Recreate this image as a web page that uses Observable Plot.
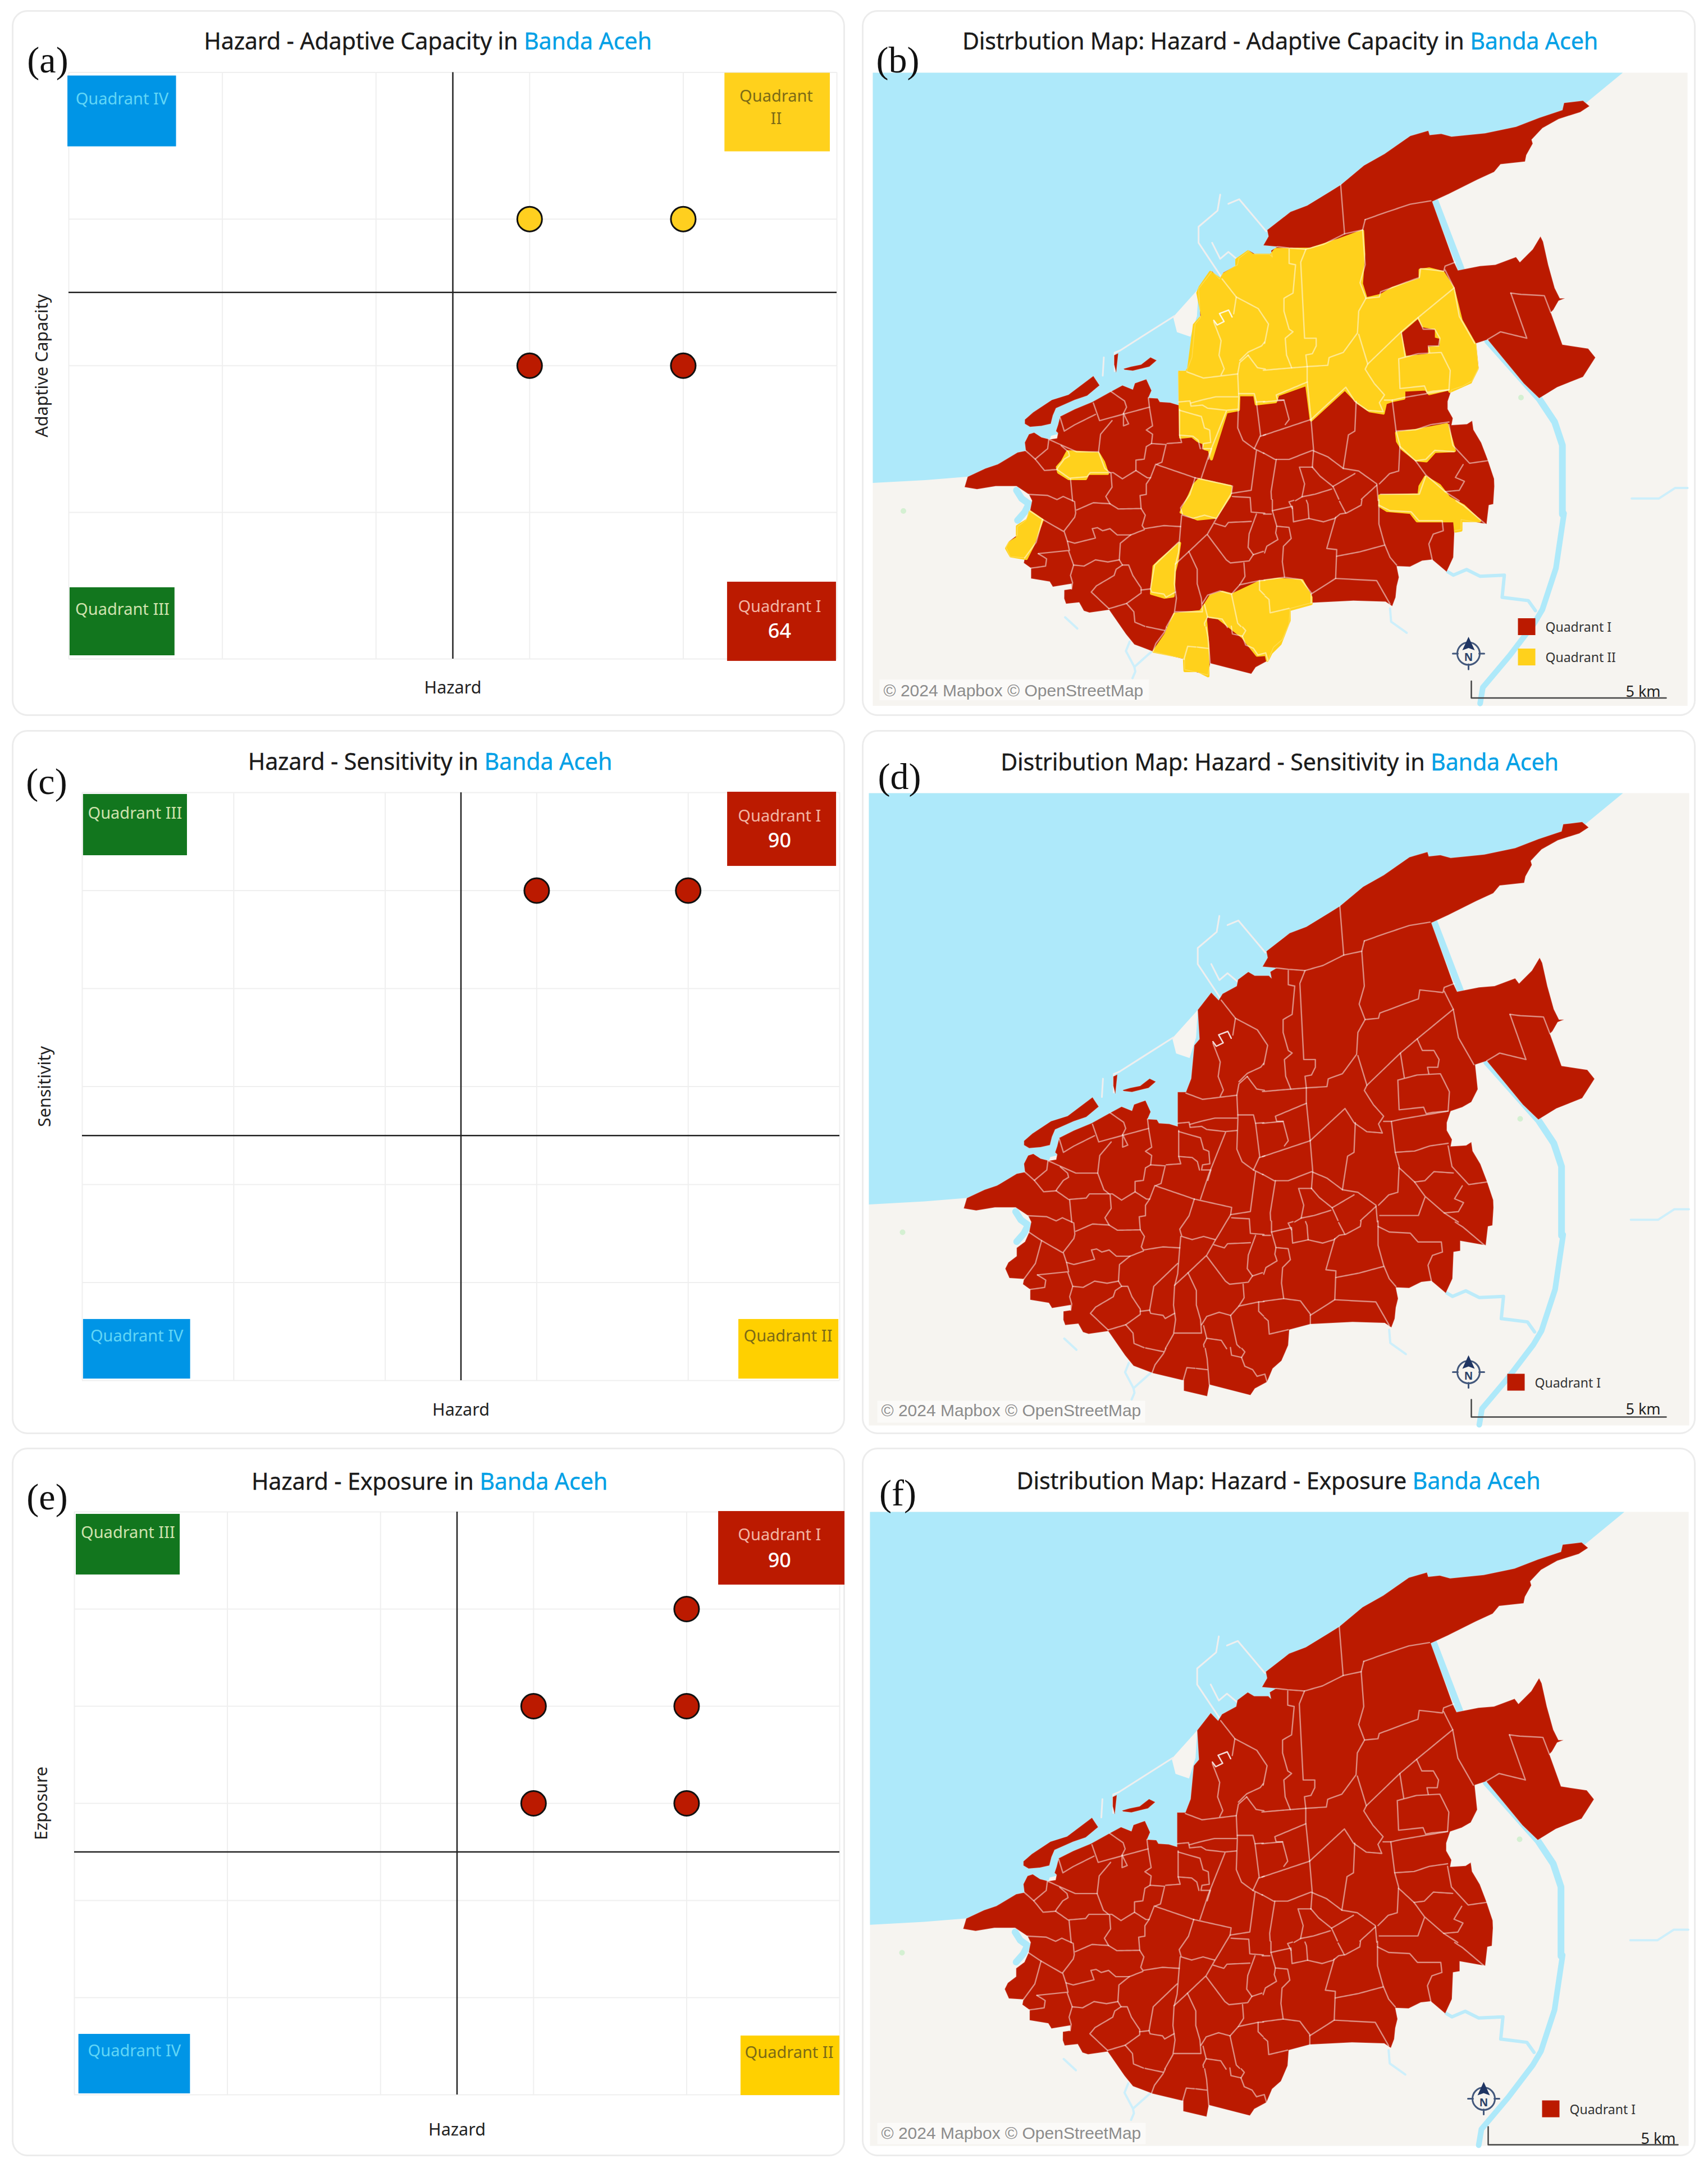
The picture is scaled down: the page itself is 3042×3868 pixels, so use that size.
<!DOCTYPE html>
<html><head><meta charset="utf-8">
<script src="https://cdn.jsdelivr.net/npm/d3@7"></script>
<script src="https://cdn.jsdelivr.net/npm/@observablehq/plot@0.6"></script>
<style>
html,body{margin:0;padding:0;background:#fff}
#page{position:relative;width:3042px;height:3868px;overflow:hidden;background:#fff}
.card{position:absolute;box-sizing:border-box;border:3px solid #ececec;border-radius:28px;background:#fff}
.title{position:absolute;transform:translate(-50%,-50%);white-space:nowrap;font-family:"Noto Sans",sans-serif;font-size:41.3px;color:#1a1a1a;letter-spacing:-.2px;-webkit-text-stroke:.35px currentColor}
.title b{font-weight:400;color:#00a0e6}
.tag{position:absolute;transform:translate(-50%,-50%);font-family:"Liberation Serif",serif;font-size:66px;color:#111}
svg{position:absolute;overflow:visible;background:transparent}
</style></head><body><div id="page"></div>
<script>
/* ---------- colours ---------- */
const RED="#BB1A00", YELLOW="#FFD11C", BLUE="#0095E6", GREEN="#12761E";
const WATER="#AEE9FA", LAND="#F6F4F0";

/* ---------- scatter values: (hazard, second score) of the dots ---------- */
const adaptiveYellow=[[3,3],[4,3]];
const adaptiveRed=[[3,2],[4,2]];
const sensitivityRed=[[3,5],[4,5]];
const exposureRed=[[4,5],[3,4],[4,4],[3,3],[4,3]];

/* ---------- quadrant annotation boxes, in axis units ---------- */
const boxesA=[
 {q:"IV",fill:BLUE,x1:-.007,x2:.7,y1:3.494,y2:3.977},
 {q:"II",fill:YELLOW,x1:4.27,x2:4.956,y1:3.46,y2:3.996},
 {q:"III",fill:GREEN,x1:.007,x2:.69,y1:.023,y2:.487},
 {q:"I",fill:RED,x1:4.287,x2:4.996,y1:-.015,y2:.525}];
const labelsA=[
 {t:"Quadrant IV",c:"#62d6f6",x:.347,y:3.816},{t:"Quadrant",c:"#7b6a16",x:4.605,y:3.835},{t:"II",c:"#7b6a16",x:4.605,y:3.682},
 {t:"Quadrant III",c:"#cfe2ae",x:.349,y:.337},{t:"Quadrant I",c:"#f2b5a4",x:4.627,y:.356},{t:"64",c:"#fff",x:4.627,y:.188,n:1}];
const boxesC=[
 {fill:GREEN,x1:.007,x2:.693,y1:5.358,y2:5.983},{fill:RED,x1:4.259,x2:4.978,y1:5.249,y2:6.006},
 {fill:BLUE,x1:.007,x2:.714,y1:.017,y2:.625},{fill:"#FFD000",x1:4.333,x2:4.993,y1:.017,y2:.625}];
const labelsC=[
 {t:"Quadrant III",c:"#cfe2ae",x:.348,y:5.788},{t:"Quadrant I",c:"#f2b5a4",x:4.603,y:5.759},{t:"90",c:"#fff",x:4.603,y:5.507,n:1},
 {t:"Quadrant IV",c:"#62d6f6",x:.36,y:.453},{t:"Quadrant II",c:"#7b6a16",x:4.659,y:.453}];
const boxesE=[
 {fill:GREEN,x1:.011,x2:.69,y1:5.353,y2:5.977},{fill:RED,x1:4.208,x2:5.033,y1:5.249,y2:6.006},
 {fill:BLUE,x1:.028,x2:.757,y1:.012,y2:.624},{fill:"#FFD000",x1:4.354,x2:5,y1:-.006,y2:.607}];
const labelsE=[
 {t:"Quadrant III",c:"#cfe2ae",x:.35,y:5.786},{t:"Quadrant I",c:"#f2b5a4",x:4.607,y:5.763},{t:"90",c:"#fff",x:4.607,y:5.497,n:1},
 {t:"Quadrant IV",c:"#62d6f6",x:.392,y:.451},{t:"Quadrant II",c:"#7b6a16",x:4.67,y:.434}];

/* ---------- map geometry, read off enlarged views of the map ---------- */
/* each view records its own origin and magnification; all are tied to one map unit */
const A={ox:1690,oy:1850,kx:2.703,ky:2.703}, B={ox:2170,oy:1480,kx:2.178,ky:2.178},
      C={ox:2100,oy:2150,kx:2.529,ky:2.529}, D={ox:1690,oy:2350,kx:3,ky:3},
      E={ox:1530,oy:1300,kx:1.037,ky:1.225},
      G={ox:2098.5,oy:1675,kx:2.45,ky:2.45}, H={ox:1768.5,oy:1985,kx:2.178,ky:2.178}, I={ox:2418.5,oy:1985,kx:3,ky:3};

const coastWest=[[70,815],[85,765],[170,725],[230,705],[325,648],[365,640],[360,600],[380,560],[405,552],[440,575],[480,585],[515,580],[520,555],[510,545],[520,515],[530,475],[600,440],[685,405],[775,355],[830,325],[880,345],[890,315],[945,295],[970,350],[955,385],[1000,388],[1010,405],[1060,408],[1100,420],[1100,350],[1100,255],[1140,255],[1165,190],[1180,30],[1205,0]];
const coastPort=[[625,610],[650,572]];
const coastNorth=[[0,655],[15,630],[70,600],[75,575],[115,545],[140,560],[195,560],[205,570],[200,545],[225,530],[170,525],[190,490],[185,465],[275,395],[340,370],[430,315],[470,290],[560,215],[640,170],[740,100],[810,80],[815,97],[860,92],[900,103],[1030,90],[1150,65],[1240,30],[1330,0]];
const spitTip=[[1300,205],[1335,200],[1347,212],[1330,225],[1290,240],[1260,260],[1240,285]];
const eastEdge=[[1215,130],[1190,175],[1185,200],[1090,210],[1065,240],[1000,270],[890,325],[825,355],[910,590],[925,622],[1010,605],[1070,600],[1150,570],[1165,590],[1215,540],[1245,490],[1255,510],[1275,600],[1300,690],[1320,730],[1340,730],[1315,740],[1295,775],[1285,785],[1330,910],[1430,925],[1458,960],[1410,1035],[1310,1075],[1240,1118],[1180,1060],[1040,890],[995,905],[1005,1000],[980,1050],[945,1070],[900,1085],[885,1130],[885,1160],[905,1195],[900,1222],[960,1218],[980,1205],[985,1240],[1015,1290],[1040,1355],[1065,1430]];
const southEdge=[[1415,0],[1410,80],[1390,85],[1380,170],[1265,150],[1265,195],[1235,200],[1230,320],[1200,385],[1135,330],[1090,335],[1035,362],[975,360],[985,410],[975,450],[970,500],[955,540],[925,520],[780,515],[590,525],[495,550],[490,620],[460,690],[420,725],[395,785],[340,815],[320,845],[135,797],[125,850],[20,825],[20,780]];
const southWestEdge=[[1090,285],[985,245],[940,190],[850,60],[745,75],[715,65],[690,20],[620,28],[610,0]];
const westEdge=[[550,1310],[585,1305],[585,1280],[495,1295],[480,1270],[390,1255],[390,1205],[355,1180],[360,1155],[290,1150],[270,1105],[285,1075],[325,1045],[325,1005],[365,975],[385,930],[395,880],[380,850],[320,810],[220,810],[130,825]];
const sliver=[[360,490],[400,455],[490,395],[570,370],[690,280],[720,325],[660,375],[600,395],[510,435],[495,470],[485,510],[440,520],[385,525],[360,510]];
const islet=[[835,245],[870,235],[920,225],[965,190],[995,205],[960,235],[880,255],[840,250]];
const jetty=[[790,180],[810,170],[800,265],[790,225]];
const landPatch=[[625,610],[578,672],[585,705],[610,715],[622,670]];
const seaCorners=[[1500,1350],[2960,1350],[2890,1412],[2822,1468],[2780,1488],[2739,1505],[2690,1525],[2600,1570],[2500,1640],[2400,1730],[2200,1780],[2150,1950],[2100,2040],[1950,2040],[1870,2060],[1860,2090],[1800,2130],[1720,2133],[1646,2139],[1500,2147]];

const linesA=[
[[475,590],[470,630],[410,680]],[[365,640],[410,680],[455,735],[515,730],[575,772],[660,765],[675,745],[770,745]],
[[475,585],[610,645],[715,645],[725,560],[780,495]],[[535,615],[570,645],[575,665],[550,680],[520,720],[515,730]],
[[715,645],[745,725],[770,745],[785,745],[830,775],[895,735],[950,770],[965,770],[990,705],[1180,770]],
[[895,735],[895,685],[935,680],[945,620],[970,605],[1040,610],[1020,695],[995,705]],
[[775,750],[780,815],[750,860],[770,895]],[[580,775],[590,880]],
[[380,850],[470,855],[515,875],[545,860],[600,885],[605,940],[600,960],[550,1025]],
[[610,925],[690,890],[770,895],[810,920],[920,918],[915,855],[945,850],[945,800],[965,770]],
[[920,918],[940,950],[925,1000],[935,1015],[1030,1000],[1110,1005]],
[[385,930],[445,970],[550,1030],[565,1075],[600,1085],[700,1060],[685,1015],[710,1010],[735,1025],[770,1015],[805,1045],[870,1045],[935,1020]],
[[445,970],[415,1080],[360,1155]],
[[425,1135],[570,1120],[595,1190],[645,1195],[700,1165],[760,1175],[815,1165]],
[[870,1045],[820,1085],[815,1165],[830,1190],[800,1210],[790,1240],[705,1290],[680,1320],[765,1400]],
[[565,1075],[575,1120]],[[425,1135],[465,1160],[460,1195],[390,1205]],[[595,1190],[580,1240],[590,1275],[585,1305]],
[[830,1190],[860,1190],[880,1240],[920,1300],[920,1325],[850,1375],[765,1400]],
[[920,1310],[965,1305],[970,1320],[1030,1330],[1040,1345],[1085,1320]],
[[850,1375],[885,1415],[890,1465],[950,1490],[1035,1500],[1000,1568]],
[[965,1305],[985,1190],[1100,1080]],
[[1115,950],[1110,1005],[1100,1130],[1085,1190],[1080,1280],[1090,1350],[1080,1420],[1035,1500]],
[[1085,1185],[1150,1125],[1240,1040],[1280,970],[1355,845],[1360,810],[1180,770]],
[[1180,770],[1155,850],[1110,915],[1120,950],[1170,965],[1225,950],[1280,965]],
[[1210,770],[1250,650],[1330,450]],
[[1100,405],[1155,400],[1160,425],[1215,420],[1240,435],[1330,445],[1385,440]],
[[1160,410],[1215,395],[1280,380],[1385,380]],
[[1105,445],[1210,475],[1225,530],[1250,540],[1255,600],[1220,605],[1215,630],[1260,630],[1245,680]],
[[1105,565],[1170,570],[1195,590],[1205,630]],[[1105,440],[1105,565],[1115,600],[1045,605]],
[[1140,260],[1220,290],[1385,270]],
[[1435,180],[1395,215],[1385,270],[1390,380],[1385,530],[1410,590],[1465,630],[1568,680]],
[[1390,365],[1465,365],[1475,405],[1495,565],[1465,630]],[[1475,405],[1568,400]],[[1495,570],[1568,545]],
[[1475,640],[1450,830],[1355,845]],[[1360,860],[1445,865],[1450,935],[1568,945]],
[[1475,945],[1440,1040],[1435,1105],[1460,1140],[1568,1105]],[[1275,990],[1325,1005],[1340,985],[1450,980]],
[[1240,1045],[1330,1165],[1350,1180],[1440,1170],[1460,1140]],
[[1150,1125],[1190,1210],[1190,1280],[1210,1350],[1215,1415],[1085,1415]],
[[1415,1180],[1420,1245],[1395,1285],[1490,1265],[1568,1260]],
[[1395,1285],[1355,1330],[1300,1315],[1240,1335],[1215,1375]],
[[1355,1330],[1385,1470],[1425,1510],[1410,1530],[1355,1520],[1310,1450],[1240,1440],[1225,1380]],
[[1240,1440],[1225,1470],[1240,1568]],[[1490,1265],[1490,1310],[1530,1350],[1535,1410],[1568,1420]],
[[835,460],[860,510],[835,520],[835,460]],[[775,355],[840,400],[850,430],[835,460]],
[[690,410],[720,495],[830,465],[960,430],[975,520],[945,540],[975,560],[970,605]],
[[700,465],[600,515],[550,545],[530,480]],[[960,430],[955,385]],
[[1270,20],[1305,110],[1295,180],[1320,245],[1305,275]],[[1530,0],[1535,90],[1500,135],[1435,165],[1395,205]],
[[1435,180],[1480,240],[1568,255]]];
const linesB=[
[[470,290],[485,480]],[[225,530],[270,535],[335,540],[405,520],[485,480],[555,465]],
[[565,425],[555,465],[565,600],[545,670],[568,730],[540,780],[535,865],[480,940],[425,960],[420,990],[340,995],[280,1000],[160,1010],[130,985],[110,945]],
[[565,425],[650,395],[740,365],[820,352]],
[[568,730],[620,725],[625,705],[665,690],[745,660],[775,650],[780,615],[870,625],[875,605],[915,590]],
[[875,620],[910,690],[930,800],[990,905]],[[910,690],[770,805],[705,860],[575,985],[540,870]],
[[575,985],[565,1005],[600,1060],[640,1105],[620,1135],[635,1170],[575,1165],[525,1130],[490,1075],[355,1200]],
[[340,995],[340,1050],[355,1200],[365,1320],[360,1385]],
[[335,540],[315,590],[330,885],[375,885],[375,915],[360,945],[335,950],[340,995]],
[[270,540],[270,595],[295,600],[285,710],[250,730],[250,780],[270,850],[285,860],[255,885],[260,950],[280,1000]],
[[10,655],[65,725],[150,770],[190,830],[175,905],[110,945],[75,990],[70,1060],[75,1200],[85,1270],[135,1310],[215,1355],[270,1355],[360,1320],[420,1345],[480,1390],[540,1400],[610,1450],[620,1568]],
[[65,725],[55,790]],[[340,1055],[220,1105],[225,1125],[250,1125]],[[75,1100],[135,1100],[160,1265],[355,1200]],
[[140,1135],[250,1125],[270,1200],[255,1220]],[[135,1310],[160,1265]],
[[770,805],[790,850],[835,850],[855,885],[850,915],[810,915],[815,940]],[[705,860],[720,955]],
[[695,965],[770,945],[860,940],[895,1010],[890,1085],[830,1090],[805,1095],[795,1070],[700,1080],[695,965]],
[[890,1085],[715,1115],[670,1125],[685,1245],[760,1240],[820,1220],[890,1210]],[[640,1125],[670,1125]],
[[685,1245],[700,1300],[695,1400],[660,1410],[620,1450]],
[[700,1305],[760,1360],[800,1415],[875,1480],[975,1545],[990,1568]],
[[890,1220],[905,1300],[970,1370],[1040,1360]],[[760,1360],[800,1355],[835,1320],[910,1325]],
[[945,1375],[915,1425],[950,1440],[930,1475],[875,1480]],[[800,1420],[775,1490],[625,1490]],
[[530,1130],[525,1245],[500,1260],[480,1390]],[[360,1385],[310,1385],[330,1450],[320,1500]],
[[360,1385],[390,1420],[440,1460],[525,1410]],[[440,1460],[490,1568]],[[610,1455],[550,1510],[545,1568]],
[[435,1470],[370,1490],[320,1500],[270,1530]],[[220,1355],[200,1480],[205,1568]],
[[135,1325],[125,1480],[50,1490],[0,1568]],[[0,1445],[45,1460],[50,1490]],[[625,1530],[690,1568]],
[[75,1020],[0,1030]],[[75,1110],[0,1110]],[[75,1160],[20,1165],[0,1270]],
[[1130,710],[1170,715],[1260,720],[1285,785]],[[1130,710],[1192,885],[1090,860],[1040,890]]];
const linesC=[
[[900,30],[1025,40],[1080,30],[1075,0]],[[895,85],[945,110],[1040,115],[1075,155],[1180,155],[1185,200],[1140,215],[1120,260],[1135,330]],
[[1180,0],[1205,40],[1280,90],[1375,170]],[[1200,20],[1235,30],[1260,0]],[[895,0],[895,170],[920,260],[945,320],[975,355]],
[[920,265],[810,295],[705,315]],[[700,140],[660,280],[705,285],[700,415],[590,485]],[[700,415],[885,425],[945,530]],
[[890,0],[855,20],[820,50],[815,85],[750,120],[720,125],[695,145],[645,160],[580,145],[510,160],[505,90],[415,110],[415,0]],
[[565,0],[565,55],[575,80],[580,145]],[[555,50],[490,70],[505,100]],[[690,15],[745,120]],[[565,50],[610,25],[690,15]],
[[415,110],[435,180],[490,185],[500,235],[465,270],[460,340],[470,410],[545,420],[590,480],[590,525]],
[[470,410],[355,425],[270,445],[230,485],[185,470],[125,495],[105,530],[135,580],[180,590],[190,625],[230,630],[235,665],[280,675],[295,715],[330,730],[350,760],[385,750],[395,785]],
[[280,675],[295,650],[260,610],[230,485]],[[355,430],[365,480],[400,510],[405,570],[490,550]],
[[135,580],[110,600],[125,680],[135,797]],[[105,525],[95,565],[0,570]],[[40,720],[125,730]],
[[270,445],[260,415],[290,405],[290,345],[225,345],[205,325],[165,250],[120,225]],
[[290,345],[325,315],[300,270],[305,210],[330,125],[410,125]],[[325,310],[380,300],[390,270],[440,240],[430,210],[435,180]],
[[120,225],[160,170],[205,180],[220,155],[330,155]],[[160,135],[230,40],[320,50],[320,120],[340,125]],
[[230,35],[320,25],[325,0]],[[0,125],[60,140],[120,130],[160,140]],[[160,140],[115,220],[40,300],[0,330]],
[[40,300],[70,370],[90,490],[105,530]],[[30,30],[0,90]]];
const linesD=[
[[850,55],[940,30],[985,75],[990,125],[1050,150],[1145,170]],[[1205,0],[1195,75],[1145,180],[1100,240],[1085,280]],
[[1205,72],[1340,72],[1365,40]],[[1360,30],[1380,85],[1360,115],[1380,210],[1395,345]],[[1380,90],[1440,95],[1460,150],[1500,150]],
[[1250,325],[1270,255],[1385,265],[1395,345]]];
const portWalls=[[[665,405],[660,440],[625,475],[625,510],[670,590]],[[680,425],[700,415],[750,485]],[[650,510],[665,545],[680,530],[700,550]],[[580,670],[480,745]],[[480,745],[470,750],[470,790]],[[450,760],[448,800]]];
const squiggle=[[150,440],[165,460],[195,445],[175,410],[215,395],[230,425]];

/* main rivers and streams */
const riverMain=[[835,350],[935,610],[1040,895],[1240,1120],[1300,1210],[1330,1300],[1330,1568]];
const riverLower=[[1300,1100],[1285,1220],[1260,1310],[1245,1340],[1200,1410],[1150,1480],[1145,1515]];
const riverWest=[[320,830],[345,870],[380,895],[360,935],[325,975]];
const streamEast=[[1205,385],[1230,400],[1290,375],[1350,405],[1460,400],[1450,500],[1568,515],[1600,560]];
const streams=[
 {s:C,p:[[945,550],[950,610],[1020,660]]},
 {s:D,p:[[615,100],[680,160]]},{s:D,p:[[960,230],[940,280],[985,365],[1075,285]]},{s:D,p:[[985,365],[990,390],[975,425]]},
 {s:E,p:[[1425,1068],[1475,1068],[1505,1045],[1532,1045]]}];
const greenSpots=[[2707,1992],[1607,2194]];

/* quadrant II areas on map (b) */
const yellowG=[[135,230],[180,262],[195,238],[250,205],[250,175],[300,140],[320,155],[400,155],[420,130],[575,128],[690,90],[800,50],[805,150],[795,280],[815,345],[880,330],[930,300],[1050,260],[1050,220],[1090,215],[1150,230],[1195,300],[1230,440],[1290,545],[1300,650],[1270,710],[1180,750],[1175,740],[1090,760],[1075,740],[980,745],[980,780],[930,790],[900,800],[890,845],[830,835],[780,800],[722,740],[575,875],[555,720],[430,765],[420,795],[335,805],[328,765],[260,765],[258,830],[205,840],[140,1045],[130,1005],[110,1000],[105,975],[80,965],[55,945],[5,950],[0,665],[30,665],[40,650],[65,460],[100,420],[80,320],[90,295]];
const redInYellow=[[1040,435],[1060,470],[1115,480],[1115,515],[1135,520],[1135,550],[1085,555],[1085,585],[990,595],[970,495]];
const yellowI=[
 [[200,210],[310,195],[470,165],[510,305],[405,310],[360,360],[305,355],[230,295],[205,255]],
 [[110,545],[320,540],[325,495],[355,445],[430,490],[480,555],[560,600],[645,680],[545,678],[545,730],[515,735],[510,680],[310,680],[275,635],[150,625],[110,600]]];
const yellowH=[
 [[795,333],[918,360],[915,395],[860,480],[790,487],[725,460],[755,400],[775,355]],
 [[285,225],[405,232],[425,265],[440,310],[365,310],[355,330],[290,330],[250,305],[245,285],[265,262]],
 [[140,458],[187,490],[150,590],[125,640],[65,630],[48,600],[60,578],[90,560],[90,515],[130,490]],
 [[720,580],[710,650],[700,690],[695,785],[660,790],[610,775],[620,670],[640,650]],
 [[620,1000],[665,935],[700,855],[800,845],[818,820],[835,855],[820,870],[830,980],[755,985],[745,1025]],
 [[755,985],[830,985],[830,1095],[790,1075],[740,1075],[738,1030]],
 [[818,820],[840,785],[885,770],[925,780],[1030,730],[1100,720],[1195,725],[1230,790],[1230,815],[1145,838],[1145,880],[1110,970],[1075,1005],[1060,1035],[1055,1012],[1020,1015],[1000,990],[965,945],[915,905],[870,870],[835,865]]];

/* ---------- page layout ---------- */
const scatterPanels=[
 {tag:"(a)",tagX:85,tagY:107,card:[21,18,1505,1275],frame:[122,128.5,1490,1173],yMax:4,yLabel:"Adaptive Capacity",
  head:"Hazard - Adaptive Capacity in ",titleX:762,titleY:72,labelDy:61,boxes:boxesA,labels:labelsA,red:adaptiveRed,yellow:adaptiveYellow,yOffset:59},
 {tag:"(c)",tagX:83,tagY:1392,card:[21,1300,1505,2554],frame:[146,1411,1495,2458],yMax:6,yLabel:"Sensitivity",
  head:"Hazard - Sensitivity in ",titleX:766,titleY:1355,labelDy:62,boxes:boxesC,labels:labelsC,red:sensitivityRed,yellow:[],yOffset:78},
 {tag:"(e)",tagX:84,tagY:2666,card:[21,2578,1505,3840],frame:[132,2692,1495,3730],yMax:6,yLabel:"Ezposure",
  head:"Hazard - Exposure in ",titleX:765,titleY:2637,labelDy:72,boxes:boxesE,labels:labelsE,red:exposureRed,yellow:[],yOffset:70}];
const mapPanels=[
 {tag:"(b)",tagX:1599,tagY:107,card:[1535,18,3020,1275],frame:[1554,128.5,3005,1256],shift:[1.5,-1285],
  head:"Distrbution Map: Hazard - Adaptive Capacity in ",titleX:2280,titleY:72,colored:true,
  legend:[{c:RED,t:"Quadrant I",x:2718,y:1115},{c:YELLOW,t:"Quadrant II",x:2718,y:1169}],legendDx:34,
  north:[2615,1163],bar:[2620,1212,1242,2967],km:[2926,1231],attr:[1573,1229,1566,2046,1209,1246]},
 {tag:"(d)",tagX:1602,tagY:1383,card:[1535,1300,3020,2554],frame:[1547,1412,3008,2538],shift:[0,0],
  head:"Distribution Map: Hazard - Sensitivity in ",titleX:2279,titleY:1356,
  legend:[{c:RED,t:"Quadrant I",x:2699,y:2461}],legendDx:34,
  north:[2615,2443],bar:[2620,2492,2523,2967],km:[2926,2510],attr:[1569,2512,1562,2039,2494,2533]},
 {tag:"(f)",tagX:1599,tagY:2659,card:[1535,2578,3020,3840],frame:[1549,2692,3007,3821],shift:[-1,1283],
  head:"Distribution Map: Hazard - Exposure ",titleX:2277,titleY:2636,
  legend:[{c:RED,t:"Quadrant I",x:2761,y:3755}],legendDx:34,
  north:[2642,3737],bar:[2650,3787,3819,2988],km:[2953,3809],attr:[1569,3799,1562,2040,3780,3818]}];
const tail="Banda Aceh";

/* ---------- helpers ---------- */
const page=document.getElementById("page");
const conv=(s,pts)=>pts.map(([x,y])=>[s.ox+x/s.kx,s.oy+y/s.ky]);
const poly=ring=>({type:"Polygon",coordinates:[[...ring,ring[0]]]});
const line=pts=>({type:"LineString",coordinates:pts});
function html(cls,css,inner){const d=document.createElement("div");d.className=cls;Object.assign(d.style,css);d.innerHTML=inner||"";page.appendChild(d);return d;}
function furnish(p){
 const [x1,y1,x2,y2]=p.card;
 html("card",{left:x1+"px",top:y1+"px",width:(x2-x1)+"px",height:(y2-y1)+"px"});
}
function place(p,svg,x,y){svg.style.left=x+"px";svg.style.top=y+"px";page.appendChild(svg);}
function heading(p){
 html("title",{left:p.titleX+"px",top:p.titleY+"px"},p.head+"<b>"+tail+"</b>");
 html("tag",{left:p.tagX+"px",top:p.tagY+"px"},p.tag);
}
/* where enlarged views overlap, only one view supplies the boundary lines */
const zoneA=([x,y])=>x<2250&&y<2400&&y>=1850;
const zoneB=([x,y])=>(x>=2250&&y<2175)||y<1850;
const zoneC=([x,y])=>(x>=2250&&y>=2175)||(x>=2130&&y>=2400);
const zoneD=([x,y])=>x<2130&&y>=2400;
function keepIn(pts,zone){
 const out=[];let cur=[];
 for(let i=0;i+1<pts.length;i++){
  const [a,b]=[pts[i],pts[i+1]],n=Math.ceil(Math.hypot(b[0]-a[0],b[1]-a[1])/5);
  for(let j=0;j<n;j++){
   const p=[a[0]+(b[0]-a[0])*j/n,a[1]+(b[1]-a[1])*j/n],q=[a[0]+(b[0]-a[0])*(j+1)/n,a[1]+(b[1]-a[1])*(j+1)/n];
   if(zone([(p[0]+q[0])/2,(p[1]+q[1])/2])){if(!cur.length)cur.push(p);cur.push(q);}
   else{if(cur.length>1)out.push(cur);cur=[];}
  }
 }
 if(cur.length>1)out.push(cur);
 return out;
}

/* ---------- scatter panels ---------- */
const FONT='"Noto Sans",sans-serif';
for(const p of scatterPanels){
 furnish(p);
 const [cx1,cy1,cx2,cy2]=p.card,[fx1,fy1,fx2,fy2]=p.frame;
 const chart=Plot.plot({
  width:cx2-cx1,height:cy2-cy1,
  marginLeft:fx1-cx1,marginRight:cx2-fx2,marginTop:fy1-cy1,marginBottom:cy2-fy2,
  style:{background:"transparent",fontFamily:FONT},
  x:{domain:[0,5],label:"Hazard"},y:{domain:[0,p.yMax],label:p.yLabel},
  marks:[
   Plot.gridX(d3.range(0,6),{stroke:"#efefef",strokeOpacity:1,strokeWidth:2}),
   Plot.gridY(d3.range(0,p.yMax+1),{stroke:"#efefef",strokeOpacity:1,strokeWidth:2}),
   Plot.ruleX([2.5],{stroke:"#222",strokeWidth:2.5}),
   Plot.ruleY([2.5],{stroke:"#222",strokeWidth:2.5}),
   Plot.rect(p.boxes,{x1:"x1",x2:"x2",y1:"y1",y2:"y2",fill:"fill"}),
   Plot.text(p.labels.filter(d=>!d.n),{x:"x",y:"y",text:"t",fill:"c",fontSize:29,fontFamily:FONT}),
   Plot.text(p.labels.filter(d=>d.n),{x:"x",y:"y",text:"t",fill:"c",fontSize:36,fontWeight:500,fontFamily:FONT}),
   Plot.dot(p.red,{x:d=>d[0],y:d=>d[1],r:22,fill:RED,stroke:"#111",strokeWidth:3}),
   Plot.dot(p.yellow,{x:d=>d[0],y:d=>d[1],r:22,fill:"#FFCF1F",stroke:"#111",strokeWidth:3}),
   Plot.axisX({tickSize:0,tickFormat:()=>"",label:"Hazard",labelAnchor:"center",labelArrow:"none",labelOffset:p.labelDy,fontSize:30.5,fill:"#222"}),
   Plot.axisY({tickSize:0,tickFormat:()=>"",label:p.yLabel,labelAnchor:"center",labelArrow:"none",labelOffset:p.yOffset,fontSize:30.5,fill:"#222"})
  ]});
 place(p,chart,cx1,cy1);
 heading(p);
}

/* ---------- map panels ---------- */
const outline=[...conv(A,coastWest),...conv(E,coastPort),...conv(B,coastNorth),...conv(E,spitTip),...conv(B,eastEdge),
 ...conv(C,southEdge),[2108,2458],...conv(D,southWestEdge),...conv(A,westEdge)];
const boundaries=[
 ...linesA.flatMap(l=>keepIn(conv(A,l),zoneA)),
 ...linesB.flatMap(l=>keepIn(conv(B,l),zoneB)),
 ...linesC.flatMap(l=>keepIn(conv(C,l),zoneC)),
 ...linesD.flatMap(l=>keepIn(conv(D,l),zoneD))].map(line);
const cityParts=[poly(outline),poly(conv(A,sliver)),poly(conv(A,islet)),poly(conv(A,jetty))];
const yellowParts=[poly(conv(G,yellowG)),...yellowI.map(r=>poly(conv(I,r))),...yellowH.map(r=>poly(conv(H,r)))];

for(const p of mapPanels){
 furnish(p);
 const [fx1,fy1,fx2,fy2]=p.frame,[dx,dy]=p.shift,w=fx2-fx1,h=fy2-fy1;
 const U=(x,y)=>[x-dx,y-dy];
 const projection=d3.geoIdentity().translate([dx-fx1,dy-fy1]).clipExtent([[0,0],[w,h]]);
 const [ax,ay,bx1,bx2,by1,by2]=p.attr,[nx,ny]=p.north,[sx,st,sb,se]=p.bar;
 const marks=[
  Plot.frame({fill:LAND,stroke:null}),
  Plot.geo([poly(seaCorners)],{fill:WATER,stroke:null}),
  Plot.geo([poly(conv(E,landPatch))],{fill:LAND,stroke:null}),
  Plot.geo([line(conv(B,riverMain)),line(conv(A,riverWest))],{stroke:WATER,strokeWidth:12,strokeLinejoin:"round"}),
  Plot.geo([line(conv(E,riverLower))],{stroke:WATER,strokeWidth:10,strokeLinejoin:"round"}),
  Plot.geo([line(conv(C,streamEast))],{stroke:"#BCEBFA",strokeWidth:6}),
  Plot.geo(streams.map(d=>line(conv(d.s,d.p))),{stroke:"#CDEFFB",strokeWidth:4}),
  Plot.dot(greenSpots,{x:d=>d[0],y:d=>d[1],r:5,fill:"#D4F0D2"}),
  Plot.geo(portWalls.map(l=>line(conv(E,l))),{stroke:"#EFEFEF",strokeWidth:3}),
  Plot.geo(cityParts,{fill:RED,stroke:null})];
 if(p.colored) marks.push(
  Plot.geo(yellowParts,{fill:YELLOW,stroke:YELLOW,strokeWidth:5,strokeLinejoin:"round"}),
  Plot.geo([poly(conv(G,redInYellow))],{fill:RED,stroke:null}));
 marks.push(
  Plot.geo(boundaries,{stroke:"#fff",strokeOpacity:.5,strokeWidth:2.4,strokeLinejoin:"round"}),
  Plot.geo([line(conv(G,squiggle))],{stroke:"#fff",strokeOpacity:.85,strokeWidth:2.5}),
  Plot.geo(cityParts,{fill:"none",stroke:"#fff",strokeOpacity:.22,strokeWidth:1.5}));
 for(const d of p.legend){
  marks.push(Plot.geo([poly([U(d.x-15,d.y-15),U(d.x+16,d.y-15),U(d.x+16,d.y+15),U(d.x-15,d.y+15)])],{fill:d.c,stroke:null}));
 }
 marks.push(
  Plot.text(p.legend,{x:d=>U(d.x+p.legendDx,d.y)[0],y:d=>U(d.x,d.y+2)[1],text:"t",textAnchor:"start",fontSize:23,fill:"#333",fontFamily:FONT}),
  /* attribution */
  Plot.geo([poly([U(bx1,by1),U(bx2,by1),U(bx2,by2),U(bx1,by2)])],{fill:"#fff",fillOpacity:.5,stroke:null}),
  Plot.text(["\u00a9 2024 Mapbox \u00a9 OpenStreetMap"],{x:()=>U(ax,0)[0],y:()=>U(0,ay)[1],text:d=>d,textAnchor:"start",fontSize:30,fill:"#8c8c8c",fontFamily:'"Liberation Sans",sans-serif'}),
  /* scale bar */
  Plot.geo([line([U(sx,st),U(sx,sb),U(se,sb)])],{stroke:"#444",strokeWidth:2.5}),
  Plot.text(["5 km"],{x:()=>U(p.km[0],0)[0],y:()=>U(0,p.km[1])[1],text:d=>d,fontSize:27,fill:"#222",fontFamily:FONT}),
  /* north arrow */
  Plot.dot([U(nx,ny)],{x:d=>d[0],y:d=>d[1],r:20,fill:"none",stroke:"#43587c",strokeWidth:3}),
  Plot.geo([line([U(nx-28,ny),U(nx-19,ny)]),line([U(nx+19,ny),U(nx+28,ny)]),line([U(nx,ny+19),U(nx,ny+28)])],{stroke:"#43587c",strokeWidth:3}),
  Plot.geo([poly([U(nx,ny-30),U(nx+11,ny-6),U(nx,ny-10),U(nx-11,ny-6)])],{fill:"#1f3563",stroke:null}),
  Plot.text(["N"],{x:()=>U(nx,0)[0],y:()=>U(0,ny+7)[1],text:d=>d,fontSize:19,fontWeight:700,fill:"#2c4269",fontFamily:FONT})
 );
 const chart=Plot.plot({width:w,height:h,margin:0,projection,style:{background:"transparent",fontFamily:FONT},marks});
 place(p,chart,fx1,fy1);
 heading(p);
}
</script></body></html>
